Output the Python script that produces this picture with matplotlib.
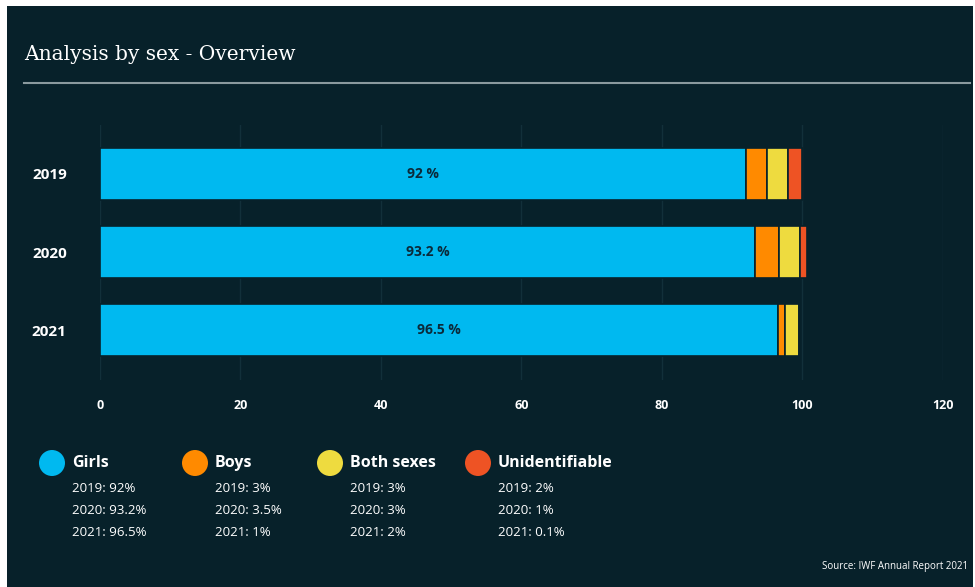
import matplotlib.pyplot as plt
from matplotlib.patches import Rectangle, Ellipse

years = ['2019', '2020', '2021']
categories = ['Girls', 'Boys', 'Both sexes', 'Unidentifiable']
girls = [92, 93.2, 96.5]
boys = [3, 3.5, 1]
both = [3, 3, 2]
unident = [2, 1, 0.1]
xticks = [0, 20, 40, 60, 80, 100, 120]

bg = '#07212a'
colors = ['#00b9f0', '#ff8a00', '#eedb3f', '#ee5324']
series = [girls, boys, both, unident]

plt.rcParams['font.family'] = ['Open Sans', 'DejaVu Sans']

W, H = 975, 587
fig = plt.figure(figsize=(9.75, 5.87), dpi=100)
fig.patch.set_facecolor('white')
# dark panel (small white margin on left/top/right like the screenshot)
fig.add_artist(Rectangle((7 / W, 0), (973 - 7) / W, (H - 6) / H,
                         transform=fig.transFigure, facecolor=bg,
                         edgecolor='none', zorder=0))

# title and rule
fig.text(24 / W, 1 - 55 / H, 'Analysis by sex - Overview', color='white',
         fontsize=14.5, family='DejaVu Serif', va='center', ha='left')
fig.add_artist(plt.Line2D([24 / W, 970 / W], [1 - 83 / H, 1 - 83 / H],
                          transform=fig.transFigure, color='#8a9a9e', lw=1.5))

ax = fig.add_axes([100 / W, 1 - 380 / H, 843 / W, 255 / H])
ax.set_facecolor('none')
left = [0, 0, 0]
for vals, c in zip(series, colors):
    ax.barh(range(len(years)), vals, left=left, height=0.665, color=c,
            edgecolor=bg, linewidth=1.2, zorder=3)
    left = [l + v for l, v in zip(left, vals)]

for i, g in enumerate(girls):
    ax.text(g / 2, i, f'{g:g} %', ha='center', va='center', color='#0b2a3a',
            fontsize=10, fontweight='bold', zorder=4)

ax.set_xlim(0, 120)
ax.set_ylim(2.633, -0.626)
ax.set_xticks(xticks)
ax.set_yticks(range(len(years)))
ax.set_yticklabels(years)
ax.grid(axis='x', color='#12303a', lw=1, zorder=0)
for s in ax.spines.values():
    s.set_visible(False)
ax.tick_params(length=0, colors='white', labelsize=9)
ax.tick_params(axis='x', pad=14)
ax.tick_params(axis='y', pad=24, labelsize=11)
for t in ax.get_xticklabels() + ax.get_yticklabels():
    t.set_fontweight('bold')

# legend
legend_x = [52, 195, 330, 478]
for k, (name, vals, c) in enumerate(zip(categories, series, colors)):
    cx = legend_x[k]
    fig.add_artist(Ellipse((cx / W, 1 - 463 / H), 26 / W, 26 / H,
                           transform=fig.transFigure, facecolor=c,
                           edgecolor='none'))
    fig.text((cx + 20) / W, 1 - 463 / H, name, color='white', fontsize=11.5,
             fontweight='bold', va='center', ha='left')
    for j, (y, v) in enumerate(zip(years, vals)):
        fig.text((cx + 20) / W, 1 - (489 + 21.5 * j) / H, f'{y}: {v:g}%',
                 color='white', fontsize=9.5, va='center', ha='left')

fig.text(968 / W, 1 - 566 / H, 'Source: IWF Annual Report 2021', color='white',
         fontsize=7, ha='right', va='center')

fig.savefig('out.png', dpi=100, facecolor=fig.get_facecolor())
